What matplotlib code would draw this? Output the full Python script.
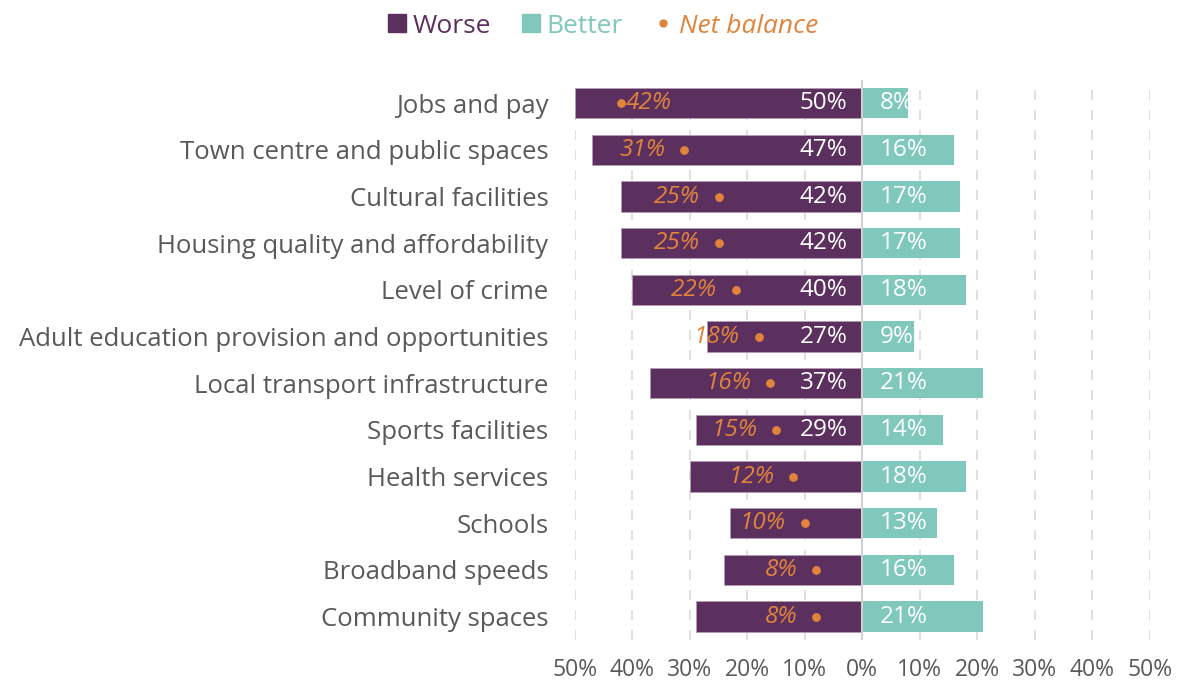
import numpy as np
import matplotlib.pyplot as plt
from matplotlib.lines import Line2D

categories = ["Jobs and pay", "Town centre and public spaces", "Cultural facilities",
              "Housing quality and affordability", "Level of crime",
              "Adult education provision and opportunities", "Local transport infrastructure",
              "Sports facilities", "Health services", "Schools", "Broadband speeds",
              "Community spaces"]
worse = [50, 47, 42, 42, 40, 27, 37, 29, 30, 23, 24, 29]
better = [8, 16, 17, 17, 18, 9, 21, 14, 18, 13, 16, 21]
net = [42, 31, 25, 25, 22, 18, 16, 15, 12, 10, 8, 8]
# worse labels are only printed on the first eight rows
worse_shown = [True] * 8 + [False] * 4

PURPLE = "#5B2F5E"
TEAL = "#80C7BC"
ORANGE = "#E0843C"
GREY = "#595959"

plt.rcParams['font.family'] = ['Open Sans', 'DejaVu Sans']

fig = plt.figure(figsize=(11.78, 6.83), dpi=100)
ax = fig.add_axes([0.488, 0.063, 0.488, 0.820])

y = np.arange(len(categories))
ax.barh(y, [-w for w in worse], height=0.65, color=PURPLE, edgecolor="#B59BB5", linewidth=0.6, zorder=2)
ax.barh(y, better, height=0.65, color=TEAL, zorder=2)
ax.scatter([-n for n in net], y, s=28, color=ORANGE, zorder=4)

VAL_FS = 17.5
for i in range(len(categories)):
    if worse_shown[i]:
        ax.text(-2.6, y[i], f"{worse[i]}%", color="white", fontsize=VAL_FS,
                ha="right", va="center", zorder=5)
    ax.text(3.0, y[i], f"{better[i]}%", color="white", fontsize=VAL_FS,
            ha="left", va="center", zorder=5)
    if net[i] >= 40:
        ax.text(-net[i] + 0.9, y[i], f"{net[i]}%", color=ORANGE, fontsize=VAL_FS,
                style="italic", ha="left", va="center", zorder=5)
    else:
        ax.text(-net[i] - 3.3, y[i], f"{net[i]}%", color=ORANGE, fontsize=VAL_FS,
                style="italic", ha="right", va="center", zorder=5)

ax.set_xlim(-50, 50)
ax.set_ylim(len(categories) - 0.5, -0.5)
ticks = np.arange(-50, 51, 10)
ax.set_xticks(ticks)
ax.set_xticklabels([f"{abs(t)}%" for t in ticks], color=GREY, fontsize=16.5)
ax.set_yticks(y)
ax.set_yticklabels(categories, color=GREY, fontsize=18.5)
ax.tick_params(axis="x", length=0, pad=13)
ax.tick_params(axis="y", length=0, pad=19)
for t in ticks:
    if t == 0:
        ax.axvline(0, color="#D0D0D0", linewidth=1.5, zorder=3)
    else:
        ax.axvline(t, color="#D9D9D9", linewidth=1.2, linestyle=(0, (6, 6)), zorder=1)
for s in ax.spines.values():
    s.set_visible(False)

handles = [
    Line2D([], [], marker="s", linestyle="none", markersize=13, color=PURPLE),
    Line2D([], [], marker="s", linestyle="none", markersize=13, color=TEAL),
    Line2D([], [], marker="o", linestyle="none", markersize=5, color=ORANGE),
]
leg = fig.legend(handles, ["Worse", "Better", "Net balance"], loc="upper center",
                 bbox_to_anchor=(0.51, 1.015), ncol=3, frameon=False, fontsize=19,
                 handletextpad=0.1, columnspacing=1.0, handlelength=1.0)
for txt, c in zip(leg.get_texts(), [PURPLE, TEAL, ORANGE]):
    txt.set_color(c)
leg.get_texts()[2].set_style("italic")

fig.savefig("out.png", dpi=100)
